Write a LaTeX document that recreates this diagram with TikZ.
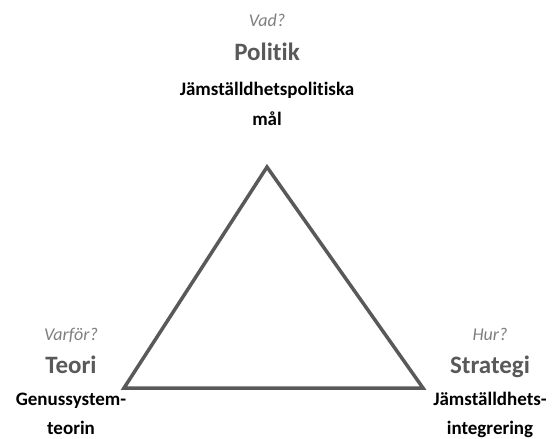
\documentclass[tikz,border=0pt]{standalone}
\usepackage{fontspec}
\setmainfont{Carlito}[Ligatures=NoCommon]
\usetikzlibrary{positioning}
\definecolor{darkgrey}{HTML}{595959}
\definecolor{midgrey}{HTML}{7F7F7F}
\tikzstyle{question} = [font=\itshape\fontsize{18}{18}\selectfont, text=midgrey, inner sep=0pt]
\tikzstyle{topic} = [font=\bfseries\fontsize{25}{25}\selectfont, text=darkgrey, inner sep=0pt]
\tikzstyle{desc} = [font=\bfseries\fontsize{19}{19}\selectfont, text=black, inner sep=0pt]

\begin{document}
\begin{tikzpicture}[x=1pt, y=-1pt, node distance=33pt]
    \useasboundingbox (0,0) rectangle (552,439);
    % Triangle
    \coordinate (top) at (267,167);
    \coordinate (left) at (124,388);
    \coordinate (right) at (423,388);
    \draw [darkgrey, line width=3.5pt, line join=miter] (top) -- (left) -- (right) -- cycle;

    % Top
    \node [topic, anchor=base] (politik) at (267,60) {Politik};
    \node [question, above=of politik.base, anchor=base] (vad) {Vad?};
    \node [desc, below=35pt of politik.base, anchor=base] (polmal) {Jämställdhetspolitiska};
    \node [desc, below=30pt of polmal.base, anchor=base] (mal) {mål};

    % Left
    \node [topic, anchor=base] (teori) at (71,373) {Teori};
    \node [question, above=of teori.base, anchor=base] (varfor) {Varför?};
    \node [desc, below=32pt of teori.base, anchor=base] (genus) {Genussystem-};
    \node [desc, below=29pt of genus.base, anchor=base] (teorin) {teorin};

    % Right
    \node [topic, anchor=base] (strategi) at (490,373) {Strategi};
    \node [question, above=of strategi.base, anchor=base] (hur) {Hur?};
    \node [desc, below=32pt of strategi.base, anchor=base] (jamst) {Jämställdhets-};
    \node [desc, below=29pt of jamst.base, anchor=base] (integ) {integrering};
\end{tikzpicture}
\end{document}
